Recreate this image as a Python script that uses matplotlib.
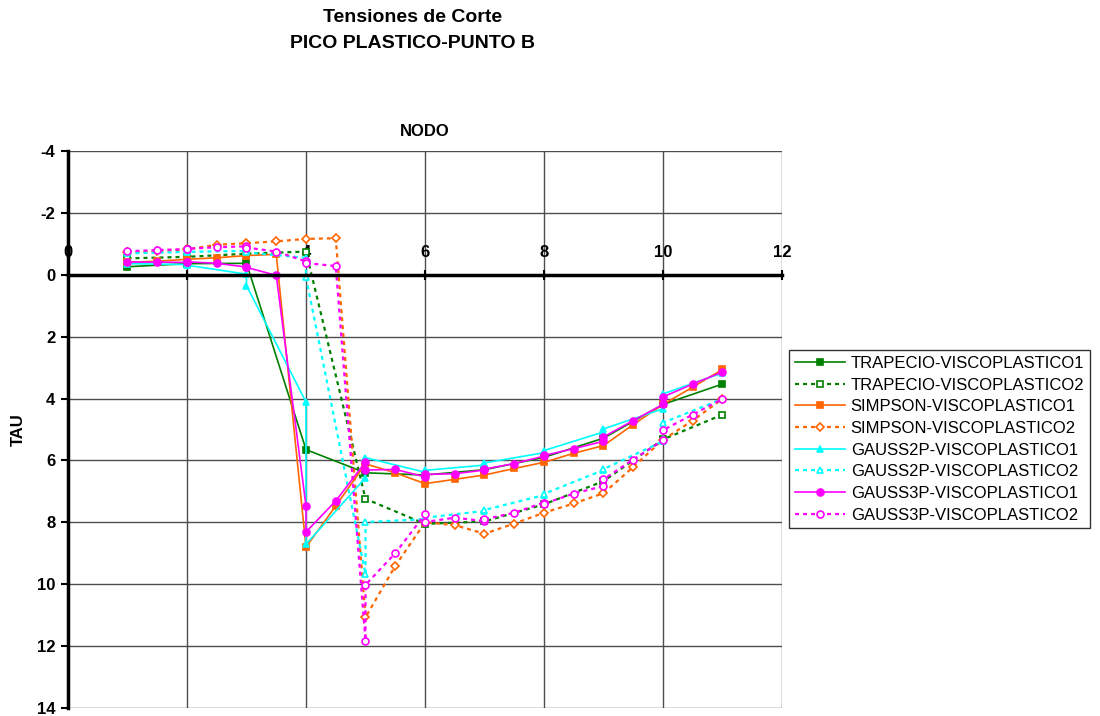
import matplotlib
matplotlib.use("Agg")
import matplotlib.pyplot as plt

plt.rcParams['font.family'] = ['Liberation Sans', 'DejaVu Sans']
plt.rcParams['axes.unicode_minus'] = False

# --- data (TAU is plotted with the axis reversed) ---
# Trapecio: one value per node
trap_x = [1, 2, 3, 4, 5, 6, 7, 8, 9, 10, 11]
trap_vp1 = [-0.26, -0.36, -0.37, 5.65, 6.40, 6.47, 6.30, 5.90, 5.28, 4.19, 3.53]
trap_vp2 = [-0.53, -0.58, -0.68, -0.75, 7.24, 8.05, 7.97, 7.42, 6.67, 5.32, 4.52]

# Simpson: nodes and mid points
simp_x = [1, 1.5, 2, 2.5, 3, 3.5, 4, 4.5, 5, 5.5, 6, 6.5, 7, 7.5, 8, 8.5, 9, 9.5, 10, 10.5, 11]
simp_vp1 = [-0.40, -0.44, -0.50, -0.55, -0.62, -0.66, 8.80, 7.47, 6.11, 6.40, 6.75,
            6.61, 6.47, 6.26, 6.06, 5.77, 5.52, 4.84, 4.19, 3.63, 3.06]
simp_vp2 = [-0.72, -0.76, -0.82, -0.97, -1.02, -1.08, -1.16, -1.18, 11.07, 9.41, 8.00,
            8.09, 8.37, 8.04, 7.69, 7.39, 7.06, 6.21, 5.33, 4.71, 4.01]

# Gauss 2 points: two values per element (left and right node)
g2_x = [1, 2, 2, 3, 3, 4, 4, 5, 5, 6, 6, 7, 7, 8, 8, 9, 9, 10, 10, 11]
g2_vp1 = [-0.36, -0.33, -0.31, -0.02, 0.35, 4.11, 8.71, 6.56, 5.91, 6.38,
          6.32, 6.15, 6.08, 5.75, 5.68, 5.08, 4.98, 4.33, 3.85, 3.17]
g2_vp2 = [-0.69, -0.74, -0.74, -0.77, -0.72, -0.55, 0.08, 9.68, 7.99, 7.90,
          7.85, 7.63, 7.60, 7.12, 7.08, 6.31, 6.28, 5.38, 4.78, 4.01]

# Gauss 3 points: three values per element
g3_x = [1, 1.5, 2, 2, 2.5, 3, 3, 3.5, 4, 4, 4.5, 5, 5, 5.5, 6, 6, 6.5, 7, 7, 7.5, 8,
        8, 8.5, 9, 9, 9.5, 10, 10, 10.5, 11]
g3_vp1 = [-0.41, -0.41, -0.40, -0.42, -0.37, -0.25, -0.24, 0.02, 7.47, 8.31, 7.31, 6.05,
          6.31, 6.29, 6.53, 6.45, 6.43, 6.31, 6.28, 6.10, 5.86, 5.84, 5.62, 5.38,
          5.24, 4.71, 4.19, 3.95, 3.53, 3.14]
g3_vp2 = [-0.76, -0.80, -0.83, -0.84, -0.89, -0.92, -0.88, -0.75, -0.43, -0.38, -0.28, 11.83,
          10.02, 9.00, 7.74, 7.99, 7.85, 7.96, 7.90, 7.69, 7.36, 7.40, 7.07, 6.83,
          6.61, 5.97, 5.35, 5.02, 4.52, 4.01]

labels = ['TRAPECIO-VISCOPLASTICO1', 'TRAPECIO-VISCOPLASTICO2',
          'SIMPSON-VISCOPLASTICO1', 'SIMPSON-VISCOPLASTICO2',
          'GAUSS2P-VISCOPLASTICO1', 'GAUSS2P-VISCOPLASTICO2',
          'GAUSS3P-VISCOPLASTICO1', 'GAUSS3P-VISCOPLASTICO2']

GREEN, ORANGE, CYAN, MAGENTA = '#008000', '#FF6600', '#00FFFF', '#FF00FF'
DOTS = (0, (1.8, 1.8))

series = [
    (trap_x, trap_vp1, GREEN, '-', 's', True),
    (trap_x, trap_vp2, GREEN, DOTS, 's', False),
    (simp_x, simp_vp1, ORANGE, '-', 's', True),
    (simp_x, simp_vp2, ORANGE, DOTS, 'D', False),
    (g2_x, g2_vp1, CYAN, '-', '^', True),
    (g2_x, g2_vp2, CYAN, DOTS, '^', False),
    (g3_x, g3_vp1, MAGENTA, '-', 'o', True),
    (g3_x, g3_vp2, MAGENTA, DOTS, 'o', False),
]

fig = plt.figure(figsize=(11, 7.16), dpi=100)
ax = fig.add_axes([68 / 1100, 8 / 716, 714 / 1100, 557 / 716])

handles = []
for (xs, ys, col, ls, mk, filled), lab in zip(series, labels):
    ln, = ax.plot(xs, ys, color=col, linestyle=ls, lw=1.2 if ls == '-' else 1.6,
                  marker=mk, markersize=5 if mk != 'D' else 4,
                  markerfacecolor=col if filled else 'white',
                  markeredgecolor=col, markeredgewidth=1.2, label=lab)
    handles.append(ln)

ax.set_xlim(0, 12)
ax.set_ylim(14, -4)
ax.set_xticks(range(0, 13, 2))
ax.set_yticks(range(-4, 15, 2))
ax.grid(True, color='#4d4d4d', lw=1)
ax.set_axisbelow(True)

# x axis crosses at TAU = 0, labels above it
ax.spines['right'].set_visible(False)
ax.spines['bottom'].set_visible(False)
ax.spines['top'].set_position(('data', 0))
ax.spines['top'].set_linewidth(2.5)
ax.spines['left'].set_linewidth(2.5)
ax.xaxis.tick_top()
ax.tick_params(axis='x', direction='inout', length=7, width=1.5, pad=7, labelsize=12)
ax.tick_params(axis='y', direction='out', length=5, width=1.5, pad=4, labelsize=12)
for lbl in ax.get_xticklabels() + ax.get_yticklabels():
    lbl.set_fontweight('bold')

fig.text(413 / 1100, 1 - 18 / 716, 'Tensiones de Corte', ha='center', va='center',
         fontsize=14, fontweight='bold')
fig.text(413 / 1100, 1 - 44 / 716, 'PICO PLASTICO-PUNTO B', ha='center', va='center',
         fontsize=14, fontweight='bold')
fig.text(425 / 1100, 1 - 131 / 716, 'NODO', ha='center', va='center',
         fontsize=12, fontweight='bold')
fig.text(18 / 1100, 1 - 430 / 716, 'TAU', ha='center', va='center', rotation=90,
         fontsize=12, fontweight='bold')

leg = fig.legend(handles=handles, loc='upper left', bbox_to_anchor=(789 / 1100, 1 - 350 / 716),
                 borderaxespad=0, fontsize=12, frameon=True, fancybox=False,
                 handlelength=3.0, handletextpad=0.35, labelspacing=0.4, borderpad=0.35)
leg.get_frame().set_edgecolor('black')
leg.get_frame().set_linewidth(1)

fig.savefig('out.png', dpi=100)
